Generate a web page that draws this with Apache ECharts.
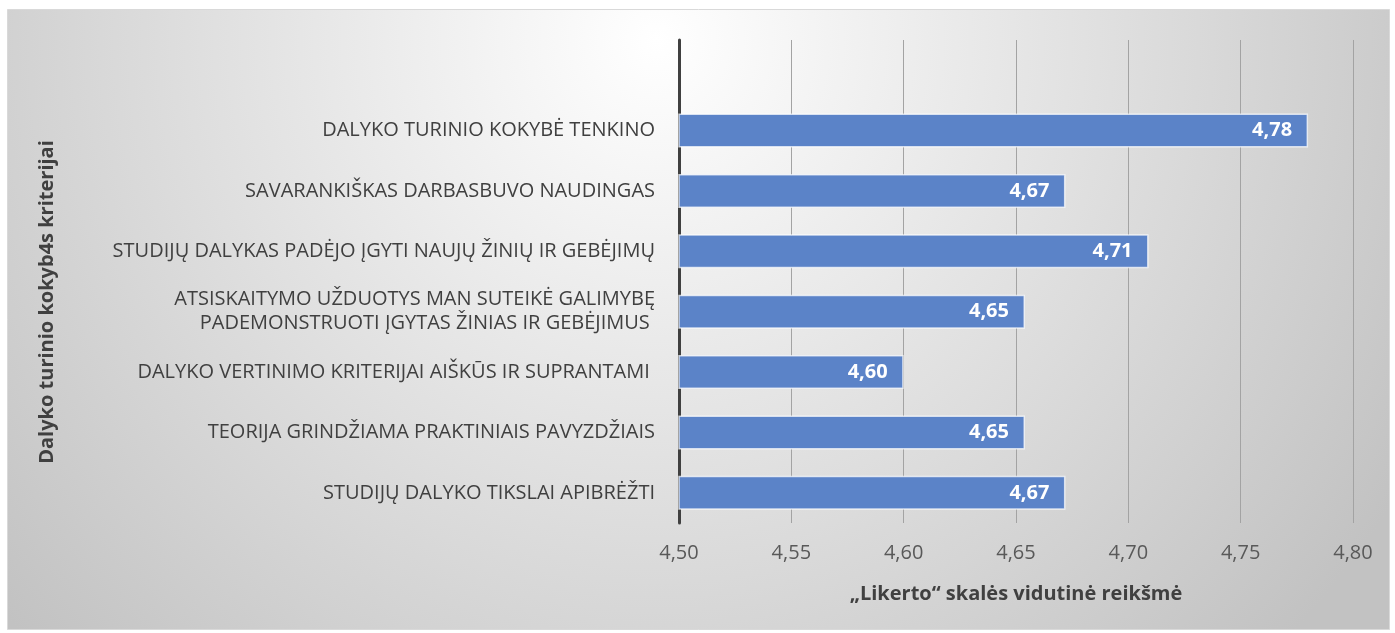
<!DOCTYPE html>
<html>
<head>
<meta charset="utf-8">
<script src="https://cdn.jsdelivr.net/npm/echarts@6/dist/echarts.min.js"></script>
<style>
  html, body { margin: 0; padding: 0; background: #fff; }
  #chart { width: 1395px; height: 633px; }
</style>
</head>
<body>
<div id="chart"></div>
<script>
// kriterijai, iš viršaus į apačią (pirmas tuščias, kaip originale)
const categories = [
  '',
  'DALYKO TURINIO KOKYBĖ TENKINO',
  'SAVARANKIŠKAS DARBASBUVO NAUDINGAS',
  'STUDIJŲ DALYKAS PADĖJO ĮGYTI NAUJŲ ŽINIŲ IR GEBĖJIMŲ',
  'ATSISKAITYMO UŽDUOTYS MAN SUTEIKĖ GALIMYBĘ\nPADEMONSTRUOTI ĮGYTAS ŽINIAS IR GEBĖJIMUS ',
  'DALYKO VERTINIMO KRITERIJAI AIŠKŪS IR SUPRANTAMI ',
  'TEORIJA GRINDŽIAMA PRAKTINIAIS PAVYZDŽIAIS',
  'STUDIJŲ DALYKO TIKSLAI APIBRĖŽTI'
];
const values = [null, 4.78, 4.672, 4.709, 4.654, 4.60, 4.654, 4.672];
const xTicks = { min: 4.5, max: 4.8, step: 0.05 };
const yTitle = 'Dalyko turinio kokyb4s kriterijai';
const xTitle = '„Likerto“ skalės vidutinė reikšmė';

const FONT = "'Open Sans', sans-serif";
const fmt = v => v.toFixed(2).replace('.', ',');

const chart = echarts.init(document.getElementById('chart'));

const option = {
  backgroundColor: '#ffffff',
  animation: false,
  graphic: [{
    type: 'rect',
    z: -10,
    silent: true,
    shape: { x: 7.5, y: 9.5, width: 1382, height: 620 },
    style: {
      fill: new echarts.graphic.RadialGradient(0.47, 0.05, 1.4, [
        { offset: 0, color: '#ffffff' },
        { offset: 1, color: '#c2c2c2' }
      ]),
      stroke: '#d9d9d9',
      lineWidth: 1
    }
  }, {
    // y ašies pavadinimas
    type: 'text',
    x: 47,
    y: 302,
    rotation: Math.PI / 2,
    silent: true,
    style: {
      text: yTitle,
      fill: '#404040',
      font: "bold 20px 'Open Sans', sans-serif",
      align: 'center',
      verticalAlign: 'middle'
    }
  }],
  grid: { left: 679, right: 42, top: 40, bottom: 110 },
  xAxis: {
    type: 'value',
    min: xTicks.min,
    max: xTicks.max,
    interval: xTicks.step,
    axisLine: { show: false },
    axisTick: { show: false },
    splitLine: { lineStyle: { color: '#a3a3a3', width: 1 } },
    axisLabel: {
      formatter: fmt,
      color: '#595959',
      fontFamily: FONT,
      fontSize: 20,
      margin: 20
    },
    name: xTitle,
    nameLocation: 'middle',
    nameGap: 61,
    nameTextStyle: {
      color: '#404040',
      fontFamily: FONT,
      fontWeight: 'bold',
      fontSize: 20
    }
  },
  yAxis: {
    type: 'category',
    inverse: true,
    data: categories,
    axisLine: { lineStyle: { color: '#404040', width: 3 } },
    axisTick: { show: false },
    axisLabel: {
      color: '#404040',
      fontFamily: FONT,
      fontSize: 20,
      margin: 24,
      align: 'right',
      lineHeight: 24
    }
  },
  series: [{
    type: 'bar',
    data: values,
    barWidth: 34,
    itemStyle: {
      color: '#5b83c8',
      borderColor: 'rgba(255,255,255,0.7)',
      borderWidth: 1.5
    },
    label: {
      show: true,
      position: 'insideRight',
      distance: 16,
      formatter: p => fmt(p.value),
      color: '#ffffff',
      fontFamily: FONT,
      fontWeight: 'bold',
      fontSize: 20
    }
  }]
};

chart.setOption(option);
</script>
</body>
</html>
